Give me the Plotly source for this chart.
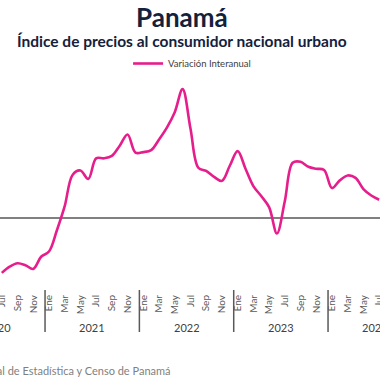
import plotly.graph_objects as go

years = ["2020", "2021", "2022", "2023", "2024"]
month_names = ["Ene", "Feb", "Mar", "Abr", "May", "Jun", "Jul", "Ago", "Sep", "Oct", "Nov", "Dic"]

# Variación interanual (%) — Jan 2020 .. Dec 2024 (None = not visible in the picture)
values_2020 = [None, None, None, None, None, None, -2.20, -1.95, -1.81, -1.89, -2.04, -1.55]
values_2021 = [-1.34, -0.49, 0.49, 1.75, 1.93, 1.59, 2.42, 2.42, 2.52, 2.93, 3.38, 2.65]
values_2022 = [2.67, 2.75, 3.18, 3.66, 4.28, 5.21, 3.62, 2.04, 1.91, 1.67, 1.51, 2.12]
values_2023 = [2.71, 2.00, 1.30, 0.90, 0.45, -0.61, 0.69, 2.24, 2.28, 2.08, 2.00, 1.95]
values_2024 = [1.22, 1.53, 1.73, 1.63, 1.18, 0.92, 0.75, None, None, None, None, None]

series_name = "Variación Interanual"
title = "Panamá"
subtitle = "Índice de precios al consumidor nacional urbano"
source = "Fuente: Instituto Nacional de Estadística y Censo de Panamá"

yvals = values_2020 + values_2021 + values_2022 + values_2023 + values_2024
xidx = list(range(len(yvals)))  # month index, equally spaced like a category axis

W, H = 380, 380
T, B = 80, 287          # plot area top / bottom in pixels
PH = B - T
XR = [5.77, 54.11]      # visible window of the (wider) original chart
YR = [-2.769, 5.578]

def py(pix):            # pixel row -> paper y
    return (B - pix) / PH

def px_of_idx(i):       # month index -> paper x
    return (i - XR[0]) / (XR[1] - XR[0])

FONT = "Lato"
fig = go.Figure()
fig.add_trace(go.Scatter(
    x=xidx, y=yvals, mode="lines", name=series_name,
    line=dict(color="#E61E8C", width=2.6, shape="spline", smoothing=1.0),
    connectgaps=False,
))

tickvals = [i for i in xidx if i % 2 == 0]
ticktext = [month_names[i % 12] for i in tickvals]

annotations = [
    dict(text="<b>" + title + "</b>", xref="paper", yref="paper", x=0.479, y=py(17),
         xanchor="center", yanchor="middle", showarrow=False,
         font=dict(size=26, color="#14213D", family=FONT)),
    dict(text="<b>" + subtitle + "</b>", xref="paper", yref="paper", x=0.479, y=py(41),
         xanchor="center", yanchor="middle", showarrow=False,
         font=dict(size=15.5, color="#14213D", family=FONT)),
    dict(text=source, xref="paper", yref="paper", x=173 / W, y=py(370),
         xanchor="right", yanchor="middle", showarrow=False,
         font=dict(size=11, color="#7F7F7F", family=FONT)),
]
shapes = []
for k, yr in enumerate(years):
    annotations.append(dict(text=yr, xref="paper", yref="paper", x=px_of_idx(12 * k + 5.5),
                            y=py(327), xanchor="center", yanchor="middle", showarrow=False,
                            font=dict(size=11, color="#404040", family=FONT)))
    if k > 0:
        shapes.append(dict(type="line", xref="x", yref="paper", x0=12 * k - 0.5, x1=12 * k - 0.5,
                           y0=py(290), y1=py(332), line=dict(color="#595959", width=1.5)))

fig.update_layout(
    width=W, height=H,
    margin=dict(l=0, r=0, t=T, b=H - B),
    plot_bgcolor="white", paper_bgcolor="white",
    font=dict(family=FONT, color="#595959"),
    showlegend=True,
    legend=dict(orientation="h", x=0.337, xanchor="left", y=py(63.5), yanchor="middle",
                font=dict(size=9.5, color="#404040"), bgcolor="rgba(0,0,0,0)"),
    xaxis=dict(range=XR, tickmode="array", tickvals=tickvals, ticktext=ticktext,
               tickangle=-90, ticks="", showline=False, showgrid=False, zeroline=False,
               automargin=False, ticklabelstandoff=5, ticklabeloverflow="allow",
               tickfont=dict(size=10, color="#595959")),
    yaxis=dict(range=YR, showticklabels=False, showgrid=False,
               zeroline=True, zerolinecolor="#808080", zerolinewidth=1.5,
               automargin=False, fixedrange=True),
    annotations=annotations,
    shapes=shapes,
)

fig.write_html("out.html", config={"displayModeBar": False},
               post_script="document.body.style.margin='0';")
